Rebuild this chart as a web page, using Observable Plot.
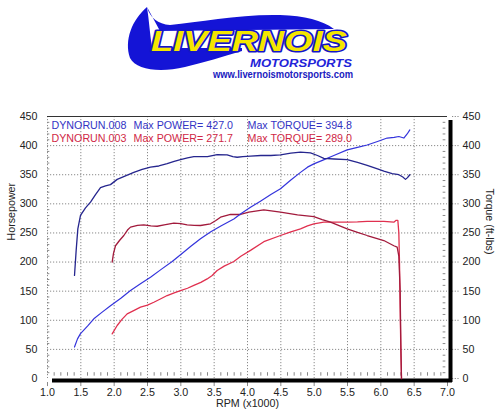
<!DOCTYPE html>
<html>
<head>
<meta charset="utf-8">
<script src="https://cdn.jsdelivr.net/npm/d3@7"></script>
<script src="https://cdn.jsdelivr.net/npm/@observablehq/plot@0.6"></script>
<style>
  html, body { margin: 0; padding: 0; background: #fff; }
  #wrap { position: relative; width: 500px; height: 417px; overflow: hidden; }
  #logo { position: absolute; left: 0; top: 0; pointer-events: none; }
  #chart { position: absolute; left: 0; top: 0; }
</style>
</head>
<body>
<div id="wrap">
  <div id="chart"></div>
  <svg id="logo" width="500" height="100" viewBox="0 0 500 100">
    <path d="M147,7 C132,20 124,40 130,58 C136,70 160,73 185,67 C205,62 222,57 242,51 L242,48 L152,48 C150,35 149,20 147,7 Z" fill="#1414d6"/>
    <path d="M147,7 C150,18 158,24 170,25 C200,22 240,14 280,15 C305,16 322,20 334,29 L160,31 Z" fill="#1414d6"/>
    <text x="151" y="50.5" font-family="Liberation Sans, Arial, sans-serif" font-weight="900" font-style="italic" font-size="30" textLength="196" lengthAdjust="spacingAndGlyphs" fill="#f4e600" stroke="#1414c8" stroke-width="3.2" paint-order="stroke" stroke-linejoin="round">LIVERNOIS</text>
    <text x="250" y="66.5" font-family="Liberation Sans, Arial, sans-serif" font-weight="bold" font-style="italic" font-size="11.5" textLength="102" lengthAdjust="spacingAndGlyphs" fill="#2222d8">MOTORSPORTS</text>
    <text x="213" y="78" font-family="Liberation Sans, Arial, sans-serif" font-weight="bold" font-size="10" textLength="140" lengthAdjust="spacingAndGlyphs" fill="#1a1ac0">www.livernoismotorsports.com</text>
  </svg>
</div>
<script>
// ---- data ----
const xTicks = [1.0, 1.5, 2.0, 2.5, 3.0, 3.5, 4.0, 4.5, 5.0, 5.5, 6.0, 6.5, 7.0];
const yTicks = [0, 50, 100, 150, 200, 250, 300, 350, 400, 450];

const runNames = ["DYNORUN.008", "DYNORUN.003"];
const maxPower = [427.0, 271.7];
const maxTorque = [394.8, 289.0];

// DYNORUN.008 torque
const rpmTq008 = [1.405,1.43,1.455,1.495,1.57,1.645,1.72,1.795,1.87,1.945,2.045,2.17,2.295,2.42,2.545,2.67,2.795,2.9,2.995,3.1,3.195,3.3,3.4,3.545,3.695,3.78,3.845,3.93,4.045,4.2,4.35,4.495,4.65,4.795,4.945,5.05,5.145,5.3,5.495,5.65,5.795,5.95,6.045,6.17,6.27,6.33,6.37,6.40,6.435];
const tq008    = [177,220,257,280,293,303,316,328,331,333,342,348,354,359,363,365,369,373,376,379,381,381,381,384.5,384,381,380,381,382,383,383,384,387,388.7,387.6,383,378,377,376,371,366,360,356,352,350,346,342,345,350];
// DYNORUN.008 power
const rpmHp008 = [1.405,1.45,1.495,1.6,1.695,1.82,1.945,2.1,2.245,2.4,2.545,2.7,2.87,3.0,3.15,3.295,3.45,3.6,3.795,3.9,4.045,4.2,4.35,4.495,4.65,4.795,4.9,4.995,5.15,5.295,5.495,5.65,5.795,5.95,6.095,6.2,6.27,6.345,6.395,6.435];
const hp008    = [54,68,77,90,102.5,114,125,138,151,163,174,187,201,213,227,240,252,262,274,283,294,305,316,326,341,354,363,368.6,376,383,392.6,397,401,407,413,414,415.6,413,420,427];
// DYNORUN.003 torque
const rpmTq003 = [1.97,1.99,2.02,2.08,2.145,2.2,2.245,2.35,2.445,2.55,2.645,2.75,2.895,3.0,3.095,3.2,3.295,3.445,3.52,3.595,3.745,3.895,4.02,4.245,4.495,4.75,4.995,5.12,5.245,5.495,5.65,5.795,6.045,6.195,6.245,6.27,6.29,6.30,6.31];
const tq003    = [200,215,228,237,245.6,255,260,263,264,262,261.5,264,267,266,264,263,262.8,265.7,271,277,281.7,281.7,285.6,289.8,285.6,281,278,273,268.5,257,251,245.6,237,228,225.5,210,150,60,0];
// DYNORUN.003 power
const rpmHp003 = [1.97,2.045,2.12,2.195,2.3,2.395,2.5,2.595,2.7,2.795,2.9,2.995,3.1,3.195,3.3,3.395,3.47,3.545,3.65,3.795,3.9,4.045,4.245,4.495,4.65,4.795,4.9,4.995,5.145,5.3,5.495,5.65,5.795,6.045,6.195,6.23,6.255,6.27,6.28,6.29,6.30,6.31];
const hp003    = [76.7,91,102,111,117,122.5,126,131,137,142.5,147,151,155,160,165,171,177,185.5,193,201,210,220,235,245.6,252,257,262,265.7,268.5,268.5,268.5,269,270,270,268.5,271.7,271.7,250,200,120,50,0];

// ---- build tables ----
const pts = (xs, ys) => xs.map((x, i) => ({x, y: ys[i]}));
const minorX = d3.range(10, 71).map(d => d / 10).filter(d => Math.round(d * 10) % 5 !== 0);
const minorY = d3.range(0, 451, 10).filter(d => d % 50 !== 0);
const gridX = xTicks.filter(d => d > 1 && d < 7);
const gridY = yTicks.filter(d => d > 0 && d < 450);

const FONT = "Liberation Sans, Arial, sans-serif";
const blueTxt = "#3434c4";
const redTxt = "#d02846";

const legendRow = (i, color, dy) => [
  Plot.text([runNames[i]], {frameAnchor: "top-left", dx: 4, dy, text: d => d, fill: color, textAnchor: "start", lineAnchor: "middle", fontSize: 10.7}),
  Plot.text([maxPower[i]], {frameAnchor: "top-left", dx: 86, dy, text: d => "Max POWER= " + d.toFixed(1), fill: color, textAnchor: "start", lineAnchor: "middle", fontSize: 10.7}),
  Plot.text([maxTorque[i]], {frameAnchor: "top-left", dx: 200, dy, text: d => "Max TORQUE= " + d.toFixed(1), fill: color, textAnchor: "start", lineAnchor: "middle", fontSize: 10.7})
];

const chart = Plot.plot({
  width: 500,
  height: 417,
  marginLeft: 47,
  marginRight: 53,
  marginTop: 116,
  marginBottom: 39,
  style: {fontFamily: FONT, fontSize: "10.7px", background: "transparent", overflow: "visible"},
  x: {domain: [1, 7], axis: null},
  y: {domain: [0, 450], axis: null},
  marks: [
    // grid
    Plot.ruleX(gridX, {stroke: "#8a8a8a", strokeDasharray: "1.2,1.8", strokeWidth: 1}),
    Plot.ruleY(gridY, {stroke: "#8a8a8a", strokeDasharray: "1.2,1.8", strokeWidth: 1}),
    Plot.ruleX([1], {stroke: "#8a8a8a", strokeDasharray: "1.2,1.8", strokeWidth: 1}),
    // minor ticks
    Plot.ruleX(minorX, {y1: 4, y2: 10, stroke: "#8a8a8a", strokeWidth: 1}),
    Plot.ruleY(minorY, {x1: 6.935, x2: 6.975, stroke: "#8a8a8a", strokeWidth: 1}),
    Plot.ruleY(minorY, {x1: 1.0, x2: 1.035, stroke: "#8a8a8a", strokeWidth: 1}),
    // outer ticks
    Plot.ruleY(yTicks, {x1: 7, x2: 7.1, dx: 5, stroke: "#8a8a8a", strokeDasharray: "1.2,1.5"}),
    Plot.ruleX(xTicks, {y1: 0, y2: -7, dy: 4, stroke: "#8a8a8a"}),
    // frame
    Plot.ruleY([450], {stroke: "#333", strokeWidth: 1}),
    Plot.ruleY([0], {stroke: "#000", strokeWidth: 4, dx: 5, dy: 2}),
    Plot.ruleX([7], {stroke: "#000", strokeWidth: 4, dx: 3, dy: 4}),
    // curves
    Plot.line(pts(rpmHp003, hp003), {x: "x", y: "y", stroke: "#e0304f", strokeWidth: 1.3}),
    Plot.line(pts(rpmTq003, tq003), {x: "x", y: "y", stroke: "#a21a3c", strokeWidth: 1.3}),
    Plot.line(pts(rpmHp008, hp008), {x: "x", y: "y", stroke: "#3434dc", strokeWidth: 1.2}),
    Plot.line(pts(rpmTq008, tq008), {x: "x", y: "y", stroke: "#26268e", strokeWidth: 1.3}),
    // legend
    ...legendRow(0, blueTxt, 9),
    ...legendRow(1, redTxt, 22),
    // tick labels
    Plot.text(yTicks, {y: d => d, frameAnchor: "left", dx: -10, textAnchor: "end", text: d => String(d), fill: "#222"}),
    Plot.text(yTicks, {y: d => d, frameAnchor: "right", dx: 15, textAnchor: "start", text: d => String(d), fill: "#222"}),
    Plot.text(xTicks, {x: d => d, frameAnchor: "bottom", dy: 17, text: d => d.toFixed(1), fill: "#222"}),
    // axis titles
    Plot.text(["RPM (x1000)"], {frameAnchor: "bottom", dy: 28, text: d => d, fill: "#222"}),
    Plot.text(["Horsepower"], {frameAnchor: "left", dx: -36, dy: -7, rotate: -90, text: d => d, fill: "#222"}),
    Plot.text(["Torque (ft-lbs)"], {frameAnchor: "right", dx: 42, dy: 7, rotate: 90, text: d => d, fill: "#222"})
  ]
});
document.getElementById("chart").appendChild(chart);
</script>
</body>
</html>
